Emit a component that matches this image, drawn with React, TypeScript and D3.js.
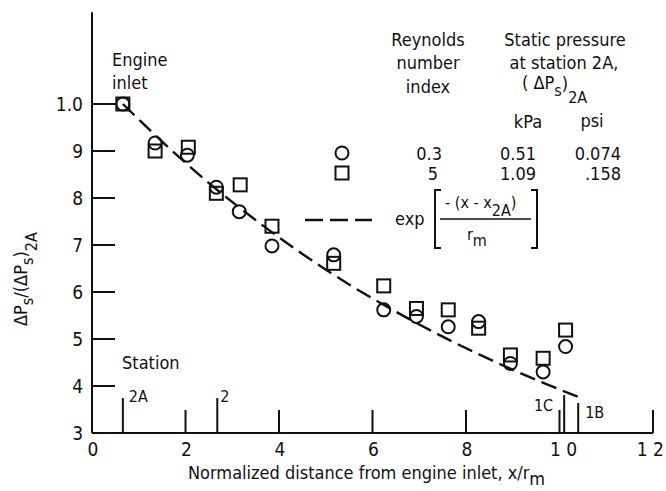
import React from 'react';
import { scaleLinear, line, curveMonotoneX } from 'd3';

// values
const circleX = [0.66, 1.35, 2.04, 2.66, 3.15, 3.85, 5.17, 6.24, 6.94, 7.62, 8.27, 8.95, 9.65, 10.13];
const circleY = [1.0, 0.917, 0.891, 0.823, 0.771, 0.698, 0.679, 0.562, 0.548, 0.526, 0.537, 0.448, 0.43, 0.484];
const squareX = [0.66, 1.35, 2.06, 2.66, 3.17, 3.85, 5.17, 6.24, 6.94, 7.62, 8.27, 8.95, 9.65, 10.13];
const squareY = [1.0, 0.9, 0.908, 0.81, 0.828, 0.74, 0.661, 0.613, 0.565, 0.562, 0.523, 0.466, 0.459, 0.519];

const curveX = [0.66, 1.5, 2.5, 3.5, 4.5, 5.5, 6.5, 7.5, 8.5, 9.5, 10.4];
const curveY = [1.0, 0.92, 0.832, 0.753, 0.681, 0.616, 0.558, 0.505, 0.457, 0.413, 0.377];

const xTicks = [0, 2, 4, 6, 8, 10, 12];
const xTickLabels = ['0', '2', '4', '6', '8', '1 0', '1 2'];
const yTicks = [0.3, 0.4, 0.5, 0.6, 0.7, 0.8, 0.9, 1.0];
const yTickLabels = ['3', '4', '5', '6', '7', '8', '9', '1.0'];

const stationX = [0.66, 2.68, 10.1, 10.4];
const stationNames = ['2A', '2', '1C', '1B'];

const W = 666;
const H = 491;
const ink = '#111';
const font = "'DejaVu Sans Condensed', 'DejaVu Sans', sans-serif";

export default function App() {
  const x = scaleLinear().domain([0, 12]).range([92, 653]);
  const y = scaleLinear().domain([0.3, 1.0]).range([433, 104]);

  const curvePath = line<number>()
    .x((d, i) => x(curveX[i]))
    .y((d) => y(d))
    .curve(curveMonotoneX)(curveY);

  // station mark heights / label placement
  const stationLen = [35, 35, 38, 30];
  const stationLab = [
    { dx: 6, dy: -31, anchor: 'start' },
    { dx: 3, dy: -31, anchor: 'start' },
    { dx: -11, dy: -22, anchor: 'end' },
    { dx: 7, dy: -15, anchor: 'start' },
  ];

  return (
    <svg
      width={W}
      height={H}
      style={{ position: 'absolute', left: 0, top: 0, background: '#fff' }}
      fontFamily={font}
      fill={ink}
    >
      {/* axes */}
      <line x1={x(0)} x2={x(0)} y1={y(1.195)} y2={y(0.3)} stroke={ink} strokeWidth={2} />
      <line x1={x(0)} x2={x(12)} y1={y(0.3)} y2={y(0.3)} stroke={ink} strokeWidth={2} />

      {yTicks.map((t, i) => (
        <g key={'yt' + i}>
          {t > 0.3 && (
            <line x1={x(0)} x2={x(0) + (t === 1 ? 25 : 23)} y1={y(t)} y2={y(t)} stroke={ink} strokeWidth={2} />
          )}
          <text x={83} y={y(t) + 7} fontSize={19} textAnchor="end">
            {yTickLabels[i]}
          </text>
        </g>
      ))}

      {xTicks.map((t, i) => (
        <g key={'xt' + i}>
          {t > 0 && <line x1={x(t)} x2={x(t)} y1={y(0.3)} y2={y(0.3) - 23} stroke={ink} strokeWidth={2} />}
          <text
            x={t === 12 ? 664 : x(t) + (t === 10 ? 4 : 1)}
            y={y(0.3) + 23}
            fontSize={19}
            textAnchor={t === 12 ? 'end' : 'middle'}
          >
            {xTickLabels[i]}
          </text>
        </g>
      ))}

      {/* stations */}
      <text x={122} y={369} fontSize={18}>Station</text>
      {stationX.map((s, i) => (
        <g key={'st' + i}>
          <line x1={x(s)} x2={x(s)} y1={y(0.3)} y2={y(0.3) - stationLen[i]} stroke={ink} strokeWidth={2} />
          <text
            x={x(s) + stationLab[i].dx}
            y={y(0.3) + stationLab[i].dy}
            fontSize={16}
            textAnchor={stationLab[i].anchor}
          >
            {stationNames[i]}
          </text>
        </g>
      ))}

      <text x={112} y={66} fontSize={18}>Engine</text>
      <text x={112} y={89} fontSize={18}>inlet</text>

      {/* fitted curve */}
      <path d={curvePath || ''} fill="none" stroke={ink} strokeWidth={2.4} strokeDasharray="16 7" />

      {/* data */}
      {squareX.map((d, i) => (
        <rect
          key={'sq' + i}
          x={x(d) - 6.5}
          y={y(squareY[i]) - 6.5}
          width={13}
          height={13}
          fill="none"
          stroke={ink}
          strokeWidth={2}
        />
      ))}
      {circleX.map((d, i) => (
        <circle key={'ci' + i} cx={x(d)} cy={y(circleY[i])} r={6.5} fill="none" stroke={ink} strokeWidth={2} />
      ))}

      {/* legend */}
      <g fontSize={18} textAnchor="middle">
        <text x={428} y={46}>Reynolds</text>
        <text x={428} y={69}>number</text>
        <text x={428} y={93}>index</text>
        <text x={565} y={46}>Static pressure</text>
        <text x={564} y={69}>at station 2A,</text>
        <text x={528} y={128}>kPa</text>
        <text x={592} y={127}>psi</text>
      </g>
      <text x={522} y={89} fontSize={18}>
        ( ΔP
        <tspan dy={7} fontSize={16}>s</tspan>
        <tspan dy={-6}>)</tspan>
        <tspan dy={13} fontSize={16}>2A</tspan>
      </text>

      <circle cx={342} cy={153} r={6.5} fill="none" stroke={ink} strokeWidth={2} />
      <rect x={335.5} y={166.5} width={13} height={13} fill="none" stroke={ink} strokeWidth={2} />
      <g fontSize={18} textAnchor="end">
        <text x={442} y={160}>0.3</text>
        <text x={536} y={160}>0.51</text>
        <text x={621} y={160}>0.074</text>
        <text x={438} y={180}>5</text>
        <text x={536} y={180}>1.09</text>
        <text x={621} y={180}>.158</text>
      </g>

      <line x1={305} x2={372} y1={220} y2={220} stroke={ink} strokeWidth={2.4} strokeDasharray="18 7" />
      <text x={395} y={225} fontSize={18}>exp</text>
      <path d="M441,190 H435 V248 H441 M531,190 H537 V248 H531" fill="none" stroke={ink} strokeWidth={2} />
      <line x1={440} x2={531} y1={219} y2={219} stroke={ink} strokeWidth={1.5} />
      <text x={445} y={208} fontSize={16}>
        - (x - x
        <tspan dy={8} fontSize={16}>2A</tspan>
        <tspan dy={-8}>)</tspan>
      </text>
      <text x={467} y={240} fontSize={16}>
        r<tspan dy={6}>m</tspan>
      </text>

      {/* axis titles */}
      <text x={188} y={479} fontSize={18}>
        Normalized distance from engine inlet, x/r
        <tspan dy={6}>m</tspan>
      </text>
      <text transform="translate(27,326) rotate(-90)" fontSize={18}>
        ΔP<tspan dy={6} fontSize={16}>s</tspan>
        <tspan dy={-6}>/(ΔP</tspan>
        <tspan dy={6} fontSize={16}>s</tspan>
        <tspan dy={-6}>)</tspan>
        <tspan dy={10} fontSize={16}>2A</tspan>
      </text>
    </svg>
  );
}
